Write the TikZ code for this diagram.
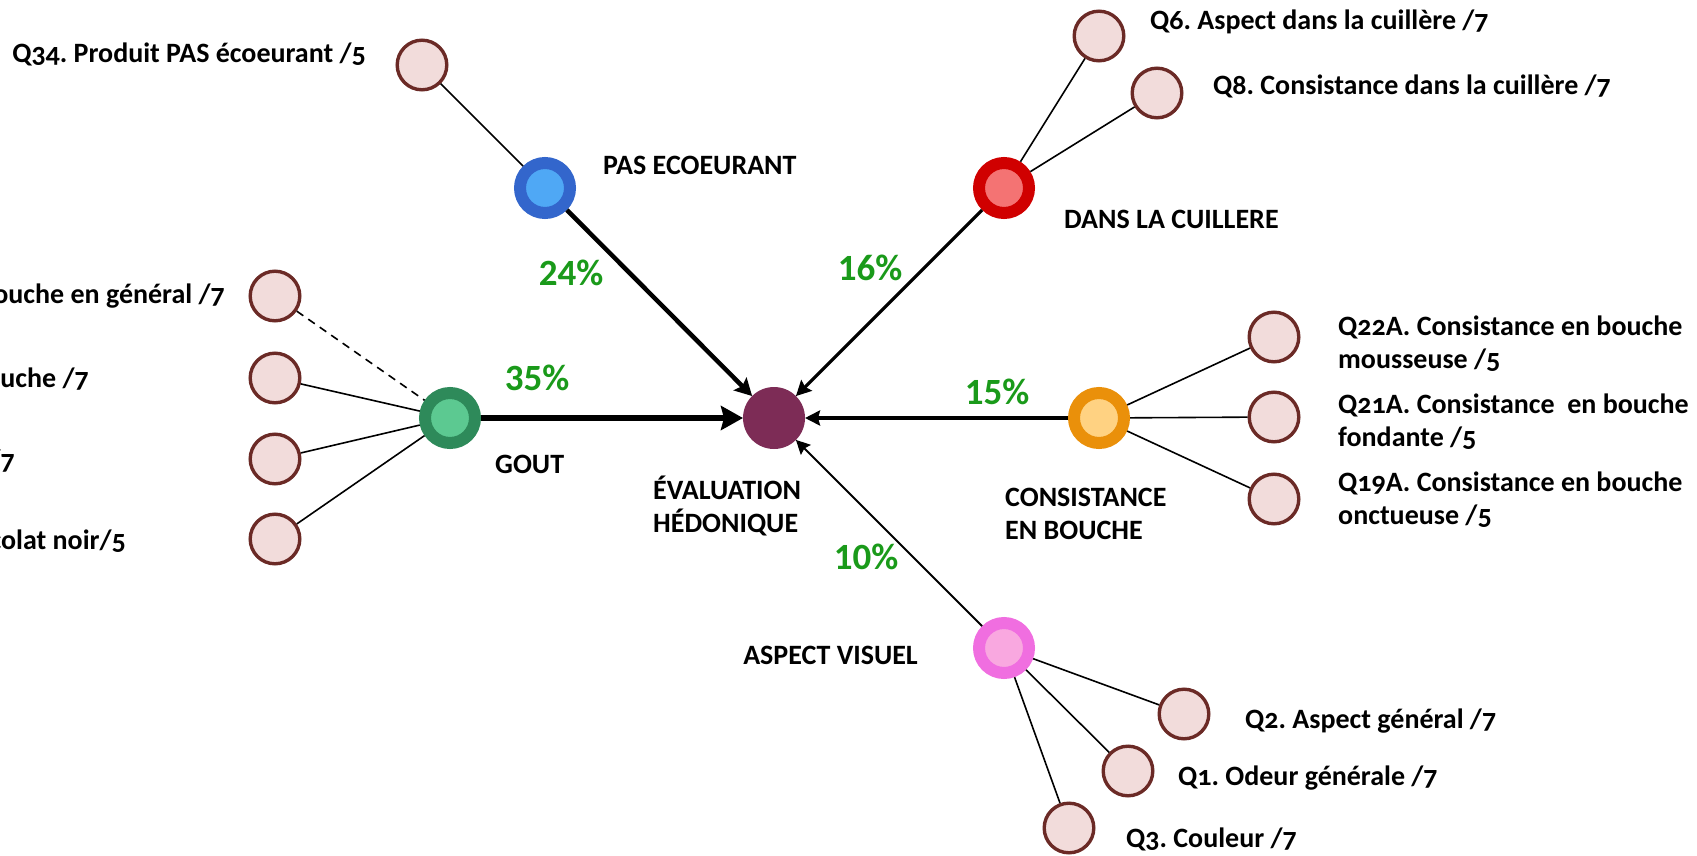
\documentclass[tikz,border=0pt]{standalone}
\usepackage{fontspec}
\setmainfont{Carlito}[Numbers=OldStyle]
\usetikzlibrary{arrows.meta}
\frenchspacing
\definecolor{leaffill}{HTML}{F2DCDB}
\definecolor{leafdraw}{HTML}{6B2A26}
\definecolor{hubcol}{HTML}{7D2C56}
\definecolor{pctgreen}{HTML}{1A9A1A}
\definecolor{blueout}{HTML}{3366CC}
\definecolor{bluein}{HTML}{4FA8F5}
\definecolor{greenout}{HTML}{2E8A5A}
\definecolor{greenin}{HTML}{5CC991}
\definecolor{redout}{HTML}{D00000}
\definecolor{redin}{HTML}{F47373}
\definecolor{orangeout}{HTML}{EA900A}
\definecolor{orangein}{HTML}{FFD282}
\definecolor{pinkout}{HTML}{F06EE0}
\definecolor{pinkin}{HTML}{F9A8E0}
\begin{document}
\begin{tikzpicture}[x=1pt,y=-1pt,
  every node/.style={inner sep=0pt},
  leaf/.style={circle,draw=leafdraw,fill=leaffill,line width=3.4pt,minimum size=49.6pt},
  ring/.style 2 args={circle,draw=#1,fill=#2,line width=12pt,minimum size=50pt},
  hub/.style={circle,fill=hubcol,minimum size=62pt,outer sep=0pt},
  lbl/.style={font=\fontsize{28}{33}\selectfont\bfseries,align=left},
  pct/.style={font=\fontsize{37}{40}\selectfont\bfseries\addfontfeatures{Numbers=Lining},text=pctgreen},
  link/.style={line width=1.6pt},
  wa/.style={line width=6.5pt,-{Stealth[length=22pt,width=24pt,inset=3pt]}},
  wb/.style={line width=4.5pt,-{Stealth[length=17pt,width=18pt,inset=3pt]}},
  wc/.style={line width=3.2pt,-{Stealth[length=15pt,width=15pt,inset=2pt]}},
  wd/.style={line width=2pt,-{Stealth[length=14pt,width=14pt,inset=2pt]}}]
\useasboundingbox (0,0) rectangle (1697,856);
\node[hub] (hub) at (774,418) {};
\node[ring={blueout}{bluein}] (pas) at (545,188) {};
\node[ring={redout}{redin}] (cuil) at (1004,188) {};
\node[ring={greenout}{greenin}] (gout) at (450,418) {};
\node[ring={orangeout}{orangein}] (cons) at (1099,418) {};
\node[ring={pinkout}{pinkin}] (visu) at (1004,648) {};
\node[leaf] (q34) at (422,65) {};
\node[leaf] (q6) at (1099,36) {};
\node[leaf] (q8) at (1157,93) {};
\node[leaf] (ga) at (275,296) {};
\node[leaf] (gb) at (275,378) {};
\node[leaf] (gc) at (275,459) {};
\node[leaf] (gd) at (275,539) {};
\node[leaf] (q22) at (1274,337) {};
\node[leaf] (q21) at (1274,417) {};
\node[leaf] (q19) at (1274,499) {};
\node[leaf] (q2) at (1184,714) {};
\node[leaf] (q1) at (1128,771) {};
\node[leaf] (q3) at (1069,828) {};
\draw[link] (q34) -- (pas);
\draw[link] (q6) -- (cuil);
\draw[link] (q8) -- (cuil);
\draw[link,dash pattern=on 8pt off 6pt] (ga) -- (gout);
\draw[link] (gb) -- (gout);
\draw[link] (gc) -- (gout);
\draw[link] (gd) -- (gout);
\draw[link] (q22) -- (cons);
\draw[link] (q21) -- (cons);
\draw[link] (q19) -- (cons);
\draw[link] (q2) -- (visu);
\draw[link] (q1) -- (visu);
\draw[link] (q3) -- (visu);
\draw[wa] (gout) -- (hub);
\draw[wb] (pas) -- (hub);
\draw[wc] (cuil) -- (hub);
\draw[wc] (cons) -- (hub);
\draw[wd] (visu) -- (hub);
\node[pct] (p24) at (571,273) {24\%};
\node[pct] (p16) at (870,268) {16\%};
\node[pct] (p35) at (537,378) {35\%};
\node[pct] (p15) at (997,392) {15\%};
\node[pct] (p10) at (866,557) {10\%};
\node[lbl,anchor=east] (q34t) at (366,54) {Q34. Produit PAS écoeurant /5};
\node[lbl,anchor=west] (past) at (603,165) {PAS ECOEURANT};
\node[lbl,anchor=west] (cuilt) at (1064,219) {DANS LA CUILLERE};
\node[lbl,anchor=west] (q6t) at (1150,22) {Q6. Aspect dans la cuillère /7};
\node[lbl,anchor=west] (q8t) at (1213,86) {Q8. Consistance dans la cuillère /7};
\node[lbl,anchor=east] (gat) at (225,296) {ouche en général /7};
\node[lbl,anchor=east] (gbt) at (89,379) {ouche /7};
\node[lbl,anchor=east] (gct) at (15,461) {/7};
\node[lbl,anchor=east] (gdt) at (126,541) {colat noir/5};
\node[lbl,anchor=west] (goutt) at (495,464) {GOUT};
\node[lbl,anchor=west] (hubt) at (653,506) {ÉVALUATION\\HÉDONIQUE};
\node[lbl,anchor=west] (const) at (1005,514) {CONSISTANCE\\EN BOUCHE};
\node[lbl,anchor=west] (q22t) at (1338,344) {Q22A. Consistance en bouche\\mousseuse /5};
\node[lbl,anchor=west] (q21t) at (1338,422) {Q21A. Consistance \ en bouche\\fondante /5};
\node[lbl,anchor=west] (q19t) at (1338,500) {Q19A. Consistance en bouche\\onctueuse /5};
\node[lbl,anchor=east] (visut) at (918,655) {ASPECT VISUEL};
\node[lbl,anchor=west] (q2t) at (1245,721) {Q2. Aspect général /7};
\node[lbl,anchor=west] (q1t) at (1178,778) {Q1. Odeur générale /7};
\node[lbl,anchor=west] (q3t) at (1126,839) {Q3. Couleur /7};
\end{tikzpicture}
\end{document}
